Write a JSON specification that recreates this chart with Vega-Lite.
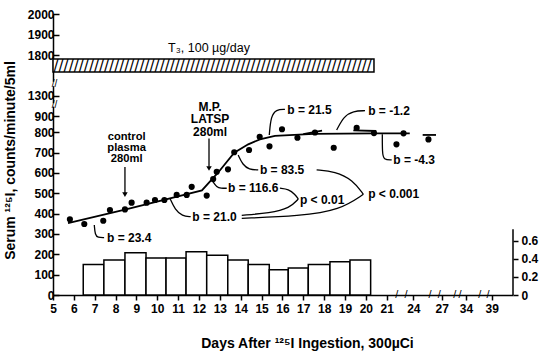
{
  "$schema": "https://vega.github.io/schema/vega-lite/v6.json",
  "width": 460,
  "height": 281,
  "autosize": {"type": "none"},
  "padding": {"left": 53, "top": 14, "right": 37, "bottom": 61},
  "background": "white",
  "config": {
    "view": {"stroke": null},
    "font": "Liberation Sans",
    "axis": {"labelFont": "Liberation Sans", "labelFontWeight": "bold", "labelFontSize": 12, "labelColor": "black", "domainColor": "black", "tickColor": "black", "domainWidth": 1.5, "tickWidth": 1.5, "grid": false, "labelOverlap": false, "titleFont": "Liberation Sans", "titleFontWeight": "bold", "titleFontSize": 14, "titleColor": "black"},
    "text": {"font": "Liberation Sans", "fontWeight": "bold", "fontSize": 12, "color": "black"}
  },
  "datasets": {
    "pts": [
      {"x": 5.81, "y": 372}, {"x": 6.5, "y": 349}, {"x": 7.41, "y": 365}, {"x": 7.73, "y": 418},
      {"x": 8.45, "y": 421}, {"x": 8.77, "y": 454}, {"x": 9.49, "y": 454}, {"x": 9.89, "y": 467},
      {"x": 10.34, "y": 467}, {"x": 10.93, "y": 492}, {"x": 11.41, "y": 492}, {"x": 11.65, "y": 532},
      {"x": 12.37, "y": 489}, {"x": 12.68, "y": 570}, {"x": 12.85, "y": 606}, {"x": 13.39, "y": 618},
      {"x": 13.69, "y": 702}, {"x": 14.4, "y": 713}, {"x": 14.91, "y": 778}, {"x": 15.38, "y": 731},
      {"x": 15.98, "y": 819}, {"x": 16.72, "y": 773}, {"x": 17.56, "y": 799}, {"x": 18.46, "y": 724},
      {"x": 19.56, "y": 827}, {"x": 20.39, "y": 796}, {"x": 22.1, "y": 741}, {"x": 22.9, "y": 795},
      {"x": 25.6, "y": 765}
    ],
    "fit": [
      {"g": "a", "i": 1, "x": 5.72, "y": 354}, {"g": "a", "i": 2, "x": 8.45, "y": 420},
      {"g": "a", "i": 3, "x": 12.14, "y": 514}, {"g": "a", "i": 4, "x": 12.9, "y": 600},
      {"g": "a", "i": 5, "x": 13.69, "y": 700}, {"g": "a", "i": 6, "x": 14.36, "y": 741},
      {"g": "a", "i": 7, "x": 14.92, "y": 765}, {"g": "a", "i": 8, "x": 15.64, "y": 782},
      {"g": "a", "i": 9, "x": 17.5, "y": 792}, {"g": "a", "i": 10, "x": 20.4, "y": 795},
      {"g": "a", "i": 11, "x": 23.6, "y": 795},
      {"g": "b", "i": 1, "x": 17.0, "y": 791}, {"g": "b", "i": 2, "x": 17.9, "y": 811},
      {"g": "c", "i": 1, "x": 19.4, "y": 812}, {"g": "c", "i": 2, "x": 20.5, "y": 808},
      {"g": "d", "i": 1, "x": 24.99, "y": 787}, {"g": "d", "i": 2, "x": 26.4, "y": 787}
    ],
    "callouts": [
      {"g": "c1", "i": 1, "x": 6.98, "y": 344}, {"g": "c1", "i": 2, "x": 7.02, "y": 295}, {"g": "c1", "i": 3, "x": 7.15, "y": 282}, {"g": "c1", "i": 4, "x": 7.45, "y": 282},
      {"g": "c2", "i": 1, "x": 10.61, "y": 475}, {"g": "c2", "i": 2, "x": 10.85, "y": 420}, {"g": "c2", "i": 3, "x": 11.2, "y": 388}, {"g": "c2", "i": 4, "x": 11.6, "y": 385},
      {"g": "c3", "i": 1, "x": 12.67, "y": 557}, {"g": "c3", "i": 2, "x": 12.85, "y": 530}, {"g": "c3", "i": 3, "x": 13.05, "y": 525}, {"g": "c3", "i": 4, "x": 13.33, "y": 525},
      {"g": "c4", "i": 1, "x": 13.88, "y": 688}, {"g": "c4", "i": 2, "x": 14.1, "y": 640}, {"g": "c4", "i": 3, "x": 14.4, "y": 617}, {"g": "c4", "i": 4, "x": 14.84, "y": 615},
      {"g": "c5", "i": 1, "x": 15.37, "y": 787}, {"g": "c5", "i": 2, "x": 15.45, "y": 900}, {"g": "c5", "i": 3, "x": 15.7, "y": 1030}, {"g": "c5", "i": 4, "x": 16.12, "y": 1033},
      {"g": "c6", "i": 1, "x": 18.6, "y": 814}, {"g": "c6", "i": 2, "x": 18.95, "y": 900}, {"g": "c6", "i": 3, "x": 19.4, "y": 1000}, {"g": "c6", "i": 4, "x": 19.96, "y": 1006},
      {"g": "c7", "i": 1, "x": 20.79, "y": 791}, {"g": "c7", "i": 2, "x": 20.79, "y": 700}, {"g": "c7", "i": 3, "x": 20.85, "y": 664}, {"g": "c7", "i": 4, "x": 21.56, "y": 664},
      {"g": "p1u", "i": 1, "x": 15.88, "y": 525}, {"g": "p1u", "i": 2, "x": 16.3, "y": 520}, {"g": "p1u", "i": 3, "x": 16.6, "y": 495}, {"g": "p1u", "i": 4, "x": 16.76, "y": 472},
      {"g": "p1l", "i": 1, "x": 14.05, "y": 392}, {"g": "p1l", "i": 2, "x": 15.4, "y": 403}, {"g": "p1l", "i": 3, "x": 16.36, "y": 428}, {"g": "p1l", "i": 4, "x": 16.76, "y": 472},
      {"g": "p2u", "i": 1, "x": 17.64, "y": 615}, {"g": "p2u", "i": 2, "x": 18.52, "y": 607}, {"g": "p2u", "i": 3, "x": 19.38, "y": 565}, {"g": "p2u", "i": 4, "x": 19.88, "y": 495},
      {"g": "p2l", "i": 1, "x": 14.05, "y": 377}, {"g": "p2l", "i": 2, "x": 16.84, "y": 388}, {"g": "p2l", "i": 3, "x": 18.76, "y": 418}, {"g": "p2l", "i": 4, "x": 19.88, "y": 495}
    ],
    "leftlabels": [
      {"x": 7.59, "y": 282, "t": "b = 23.4"},
      {"x": 11.68, "y": 385, "t": "b = 21.0"},
      {"x": 13.39, "y": 525, "t": "b = 116.6"},
      {"x": 14.92, "y": 615, "t": "b = 83.5"},
      {"x": 16.23, "y": 1020, "t": "b = 21.5"},
      {"x": 20.11, "y": 1006, "t": "b = -1.2"},
      {"x": 21.74, "y": 664, "t": "b = -4.3"},
      {"x": 16.84, "y": 467, "t": "p < 0.01"},
      {"x": 20.11, "y": 495, "t": "p < 0.001"}
    ],
    "arrows": [
      {"x": 8.45, "y": 629, "y2": 500},
      {"x": 12.48, "y": 770, "y2": 630}
    ],
    "heads": [
      {"x": 8.45, "y": 494},
      {"x": 12.48, "y": 622}
    ],
    "bars": [
      {"x": 6.45, "x2": 7.44, "r": 0.34}, {"x": 7.44, "x2": 8.45, "r": 0.39},
      {"x": 8.45, "x2": 9.46, "r": 0.47}, {"x": 9.46, "x2": 10.42, "r": 0.41},
      {"x": 10.42, "x2": 11.38, "r": 0.41}, {"x": 11.38, "x2": 12.37, "r": 0.48},
      {"x": 12.37, "x2": 13.38, "r": 0.44}, {"x": 13.38, "x2": 14.36, "r": 0.39},
      {"x": 14.36, "x2": 15.37, "r": 0.34}, {"x": 15.37, "x2": 16.28, "r": 0.28},
      {"x": 16.28, "x2": 17.24, "r": 0.3}, {"x": 17.24, "x2": 18.28, "r": 0.34},
      {"x": 18.28, "x2": 19.24, "r": 0.37}, {"x": 19.24, "x2": 20.23, "r": 0.39}
    ]
  },
  "encoding": {
    "x": {
      "field": "x", "type": "quantitative",
      "scale": {"domain": [5, 21, 24, 27, 34, 39, 41], "range": [0, 333.7, 360.3, 388.7, 413, 438.7, 460], "nice": false, "zero": false},
      "axis": {
        "values": [5, 6, 7, 8, 9, 10, 11, 12, 13, 14, 15, 16, 17, 18, 19, 20, 21, 24, 27, 34, 39],
        "title": "Days After ¹²⁵I Ingestion, 300µCi",
        "titleX": 254, "titleY": 52, "titleAlign": "center", "titleBaseline": "alphabetic",
        "labelFlush": false, "tickSize": 5, "labelPadding": 3
      }
    }
  },
  "layer": [
    {
      "encoding": {
        "y": {
          "field": "y", "type": "quantitative",
          "scale": {"domain": [0, 800, 900, 1300, 1800, 2000], "range": [281, 118.3, 102.2, 81.5, 41, 0], "nice": false, "zero": false},
          "axis": {
            "values": [0, 100, 200, 300, 400, 500, 600, 700, 800, 900, 1300, 1800, 1900, 2000],
            "format": "d",
            "title": "Serum ¹²⁵I, counts/minute/5ml",
            "titleX": -43, "titleY": 146, "titleAlign": "center", "titleBaseline": "middle",
            "tickSize": -6, "labelPadding": 5
          }
        }
      },
      "layer": [
        {
          "data": {"values": [{"x": 5, "x2": 20.39, "y": 1590, "y2": 1751}]},
          "mark": {"type": "rect", "fill": "white", "stroke": "black", "strokeWidth": 1.5},
          "encoding": {"x2": {"field": "x2"}, "y2": {"field": "y2"}}
        },
        {
          "data": {"values": [{"x": 5, "y": 1668, "t": "///////////////////////////////////////////////////////////////"}]},
          "mark": {"type": "text", "font": "DejaVu Sans", "fontWeight": "normal", "fontSize": 15, "align": "left", "baseline": "middle", "dx": 0.5},
          "encoding": {"text": {"field": "t"}}
        },
        {
          "data": {"values": [{"x": 12.48, "y": 1833, "t": "T₃, 100 µg/day"}]},
          "mark": {"type": "text", "fontWeight": "normal", "fontSize": 12.5, "align": "center", "baseline": "middle"},
          "encoding": {"text": {"field": "t"}}
        },
        {
          "data": {"values": [{"x": 4.88, "x2": 5.15, "y": 1415, "y2": 1470}, {"x": 4.88, "x2": 5.15, "y": 1085, "y2": 1150}]},
          "mark": {"type": "rect", "fill": "white"},
          "encoding": {"x2": {"field": "x2"}, "y2": {"field": "y2"}}
        },
        {
          "data": {"values": [{"x": 5, "y": 1442, "t": "//"}, {"x": 5, "y": 1110, "t": "//"}]},
          "mark": {"type": "text", "fontWeight": "normal", "fontSize": 10, "align": "center", "baseline": "middle", "dx": 1.5},
          "encoding": {"text": {"field": "t"}}
        },
        {
          "data": {"values": [{"x": 22.13, "y": 0, "t": "/"}, {"x": 23.18, "y": 0, "t": "/"}, {"x": 25.76, "y": 0, "t": "/"}, {"x": 26.75, "y": 0, "t": "/"}, {"x": 30.8, "y": 0, "t": "/"}, {"x": 32.3, "y": 0, "t": "/"}, {"x": 36.7, "y": 0, "t": "/"}, {"x": 38.3, "y": 0, "t": "/"}]},
          "mark": {"type": "text", "fontWeight": "normal", "fontSize": 11, "align": "center", "baseline": "middle"},
          "encoding": {"text": {"field": "t"}}
        },
        {
          "data": {"name": "fit"},
          "mark": {"type": "line", "color": "black", "strokeWidth": 1.8},
          "encoding": {"detail": {"field": "g"}, "order": {"field": "i"}}
        },
        {
          "data": {"name": "callouts"},
          "mark": {"type": "line", "color": "black", "strokeWidth": 1.3, "interpolate": "basis"},
          "encoding": {"detail": {"field": "g"}, "order": {"field": "i"}}
        },
        {
          "data": {"name": "arrows"},
          "mark": {"type": "rule", "color": "black", "strokeWidth": 1.3},
          "encoding": {"y2": {"field": "y2"}}
        },
        {
          "data": {"name": "heads"},
          "mark": {"type": "point", "shape": "triangle-down", "filled": true, "color": "black", "opacity": 1, "size": 30},
          "encoding": {}
        },
        {
          "data": {"name": "pts"},
          "mark": {"type": "point", "shape": "circle", "filled": true, "color": "black", "opacity": 1, "size": 38},
          "encoding": {}
        },
        {
          "data": {"name": "leftlabels"},
          "mark": {"type": "text", "align": "left", "baseline": "middle"},
          "encoding": {"text": {"field": "t"}}
        },
        {
          "data": {"values": [{"x": 8.53, "y": 778, "t": "control\nplasma\n280ml"}]},
          "mark": {"type": "text", "align": "center", "baseline": "middle", "fontSize": 11.2, "lineBreak": "\n", "lineHeight": 10.9},
          "encoding": {"text": {"field": "t"}}
        },
        {
          "data": {"values": [{"x": 12.53, "y": 1084, "t": "M.P.\nLATSP\n280ml"}]},
          "mark": {"type": "text", "align": "center", "baseline": "middle", "lineBreak": "\n", "lineHeight": 12.5},
          "encoding": {"text": {"field": "t"}}
        }
      ]
    },
    {
      "encoding": {
        "y": {
          "field": "r", "type": "quantitative",
          "scale": {"domain": [0, 3.12], "nice": false, "zero": true},
          "axis": {"orient": "right", "values": [0, 0.2, 0.4, 0.6], "format": "~g", "domain": false, "tickSize": 5, "labelPadding": 3, "title": null}
        }
      },
      "layer": [
        {
          "data": {"name": "bars"},
          "mark": {"type": "rect", "fill": "white", "stroke": "black", "strokeWidth": 1.5},
          "encoding": {"x2": {"field": "x2"}, "y2": {"datum": 0}}
        },
        {
          "data": {"values": [{"x": 41, "r": 0, "r2": 0.73}]},
          "mark": {"type": "rule", "color": "black", "strokeWidth": 1.5},
          "encoding": {"y2": {"field": "r2"}}
        }
      ]
    }
  ],
  "resolve": {"scale": {"y": "independent"}}
}
